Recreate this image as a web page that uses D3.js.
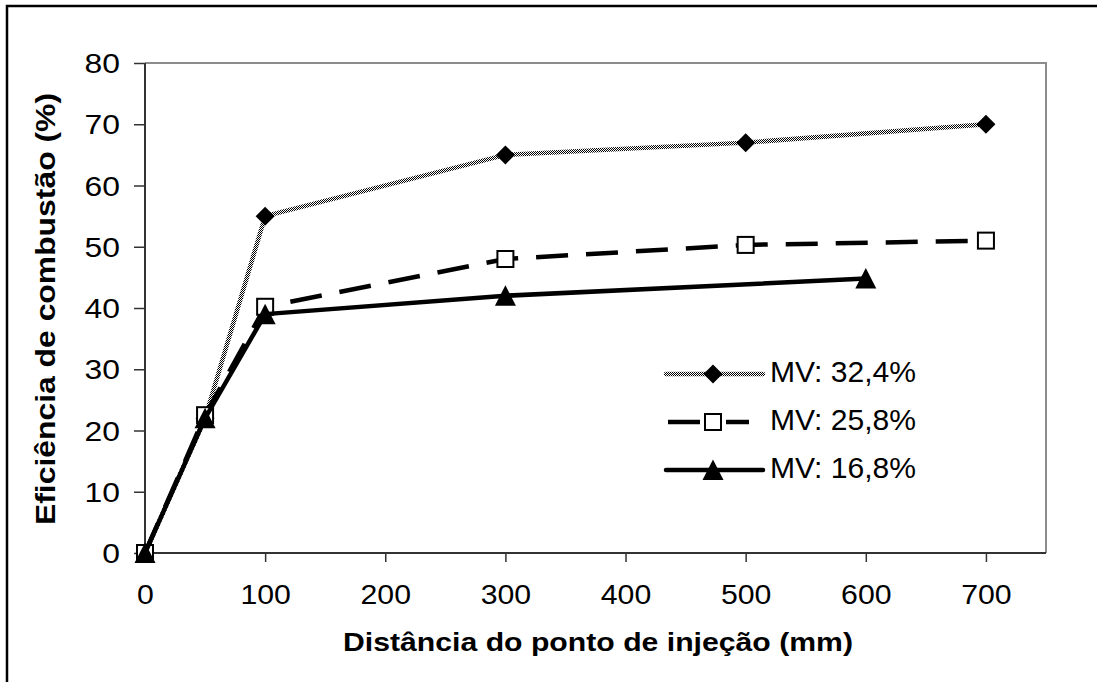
<!DOCTYPE html>
<html>
<head>
<meta charset="utf-8">
<script src="https://cdn.jsdelivr.net/npm/d3@7"></script>
<style>
  html, body { margin: 0; padding: 0; background: #fff; }
  svg { display: block; }
  text { font-family: "Liberation Sans", Arial, sans-serif; fill: #000; }
</style>
</head>
<body>
<svg id="chart" width="1097" height="682"></svg>
<script>
// Combustion efficiency vs. distance from the injection point
const seriesNames = ["MV: 32,4%", "MV: 25,8%", "MV: 16,8%"];
const xHigh = [0, 50, 100, 300, 500, 700];
const yHigh = [0, 22, 55, 65, 67, 70];
const xMid = [0, 50, 100, 300, 500, 700];
const yMid = [0, 22.5, 40.2, 48, 50.3, 51];
const xLow = [0, 50, 100, 300, 600];
const yLow = [0, 22, 39, 42, 44.8];
const xTicks = [0, 100, 200, 300, 400, 500, 600, 700];
const yTicks = [0, 10, 20, 30, 40, 50, 60, 70, 80];
const xTitle = "Distância do ponto de injeção (mm)";
const yTitle = "Eficiência de combustão (%)";

const svg = d3.select("#chart");
const plotL = 145, plotR = 1046, plotT = 63, plotB = 553;

const x = d3.scaleLinear().domain([0, 750]).range([plotL, plotR]);
const y = d3.scaleLinear().domain([0, 80]).range([plotB, plotT]);

// widen glyphs horizontally by a factor (the typeface used here runs wide)
function widen(sel, factor) {
  sel.each(function () {
    const w = this.getComputedTextLength();
    d3.select(this).attr("textLength", w * factor).attr("lengthAdjust", "spacingAndGlyphs");
  });
}

// dithered grey stroke for the first series
const defs = svg.append("defs");
const pat = defs.append("pattern").attr("id", "dither")
  .attr("patternUnits", "userSpaceOnUse").attr("width", 2).attr("height", 2);
pat.append("rect").attr("width", 2).attr("height", 2).attr("fill", "#fff");
pat.append("rect").attr("x", 0).attr("y", 0).attr("width", 1).attr("height", 1).attr("fill", "#000");
pat.append("rect").attr("x", 1).attr("y", 1).attr("width", 1).attr("height", 1).attr("fill", "#000");

// outer frame
svg.append("rect").attr("x", 7).attr("y", 6).attr("width", 1200).attr("height", 1200)
  .attr("fill", "none").attr("stroke", "#000").attr("stroke-width", 2.5);

// plot frame (top / right in grey)
svg.append("path")
  .attr("d", `M${plotL},${plotT}H${plotR}V${plotB}`)
  .attr("fill", "none").attr("stroke", "#8c8c8c").attr("stroke-width", 2);

// axes
const yAxis = d3.axisLeft(y).tickValues(yTicks).tickSize(11).tickPadding(14).tickFormat(d3.format("d"));
const xAxis = d3.axisBottom(x).tickValues(xTicks).tickSize(9).tickPadding(23).tickFormat(d3.format("d"));

const gy = svg.append("g").attr("transform", `translate(${plotL},0)`).call(yAxis);
const gx = svg.append("g").attr("transform", `translate(0,${plotB})`).call(xAxis);
[gy, gx].forEach(g => {
  g.select(".domain").attr("stroke", "#333").attr("stroke-width", 2);
  g.selectAll(".tick line").attr("stroke", "#333").attr("stroke-width", 1.5);
  g.selectAll(".tick text").attr("font-size", 27).attr("fill", "#000")
    .style("font-family", '"Liberation Sans", Arial, sans-serif');
});
gy.select(".domain").attr("d", `M0,${plotT}V${plotB}`);
gx.select(".domain").attr("d", `M${plotL},0H${plotR}`);
gy.selectAll(".tick text").attr("dy", "0.36em");
gx.selectAll(".tick text").attr("dy", "0.71em");
widen(gy.selectAll(".tick text"), 1.18);
widen(gx.selectAll(".tick text"), 1.12);

// axis titles
const xt = svg.append("text").attr("x", 598).attr("y", 651).attr("text-anchor", "middle")
  .attr("font-size", 26).attr("font-weight", "bold").text(xTitle);
xt.attr("textLength", 510).attr("lengthAdjust", "spacingAndGlyphs");
const yt = svg.append("text").attr("transform", "translate(55,309) rotate(-90)").attr("text-anchor", "middle")
  .attr("font-size", 28).attr("font-weight", "bold").text(yTitle);
yt.attr("textLength", 432).attr("lengthAdjust", "spacingAndGlyphs");

// marker shapes
const diamond = "M0,-9.5L9.5,0L0,9.5L-9.5,0Z";
const triangle = "M0,-10.5L10.5,10L-10.5,10Z";

const series = [
  { name: seriesNames[0], xs: xHigh, ys: yHigh, stroke: "url(#dither)", dash: null, width: 4.5, marker: "diamond" },
  { name: seriesNames[1], xs: xMid, ys: yMid, stroke: "#000", dash: "32,18", width: 4.5, marker: "square" },
  { name: seriesNames[2], xs: xLow, ys: yLow, stroke: "#000", dash: null, width: 4.5, marker: "triangle" }
];

const line = d3.line().x(d => x(d[0])).y(d => y(d[1]));

function drawMarker(g, kind, cx, cy) {
  if (kind === "diamond") {
    g.append("path").attr("d", diamond).attr("transform", `translate(${cx},${cy})`).attr("fill", "#000");
  } else if (kind === "square") {
    g.append("rect").attr("x", cx - 8).attr("y", cy - 8).attr("width", 16).attr("height", 16)
      .attr("fill", "#fff").attr("stroke", "#000").attr("stroke-width", 2);
  } else {
    g.append("path").attr("d", triangle).attr("transform", `translate(${cx},${cy})`).attr("fill", "#000");
  }
}

series.forEach(s => {
  const pts = s.xs.map((v, i) => [v, s.ys[i]]);
  const g = svg.append("g");
  g.append("path").datum(pts).attr("d", line).attr("fill", "none")
    .attr("stroke", s.stroke).attr("stroke-width", s.width)
    .attr("stroke-dasharray", s.dash).attr("stroke-linejoin", "round");
  pts.forEach(p => drawMarker(g, s.marker, x(p[0]), y(p[1])));
});

// legend
const legendRows = [374, 422, 470];
series.forEach((s, i) => {
  const g = svg.append("g");
  const cy = legendRows[i];
  if (s.marker === "square") {
    g.append("line").attr("x1", 668).attr("x2", 700).attr("y1", cy).attr("y2", cy)
      .attr("stroke", "#000").attr("stroke-width", s.width);
    g.append("line").attr("x1", 726).attr("x2", 749).attr("y1", cy).attr("y2", cy)
      .attr("stroke", "#000").attr("stroke-width", s.width);
  } else {
    g.append("line").attr("x1", 666).attr("x2", 763).attr("y1", cy).attr("y2", cy)
      .attr("stroke", s.stroke).attr("stroke-width", s.width).attr("stroke-linecap", "round");
  }
  drawMarker(g, s.marker, 713, cy);
  g.append("text").attr("x", 770).attr("y", cy + 8).attr("font-size", 29)
    .attr("textLength", 146).attr("lengthAdjust", "spacingAndGlyphs").text(s.name);
});
</script>
</body>
</html>
